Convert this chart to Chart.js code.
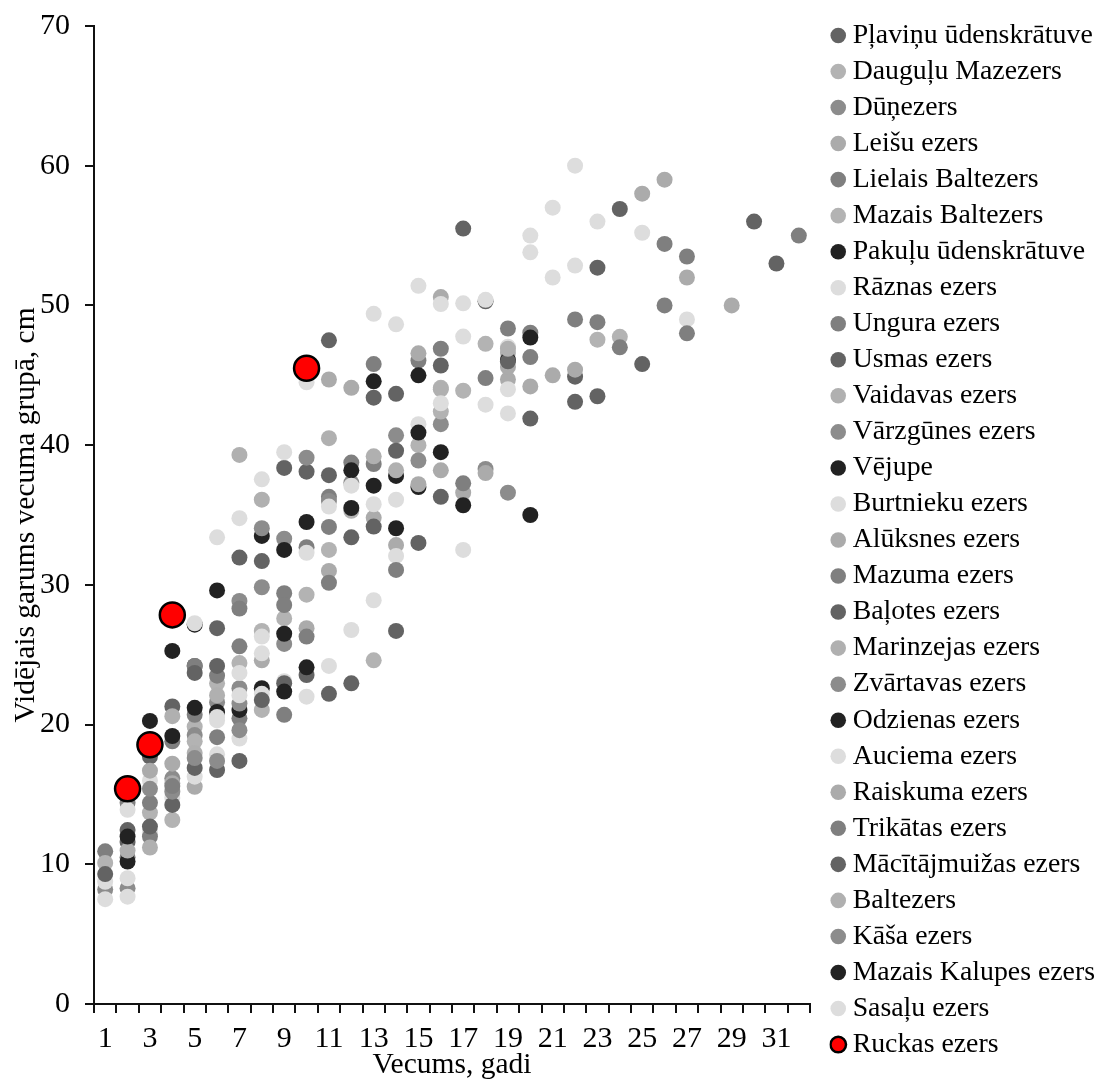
<!DOCTYPE html>
<html><head><meta charset="utf-8">
<style>html,body{margin:0;padding:0;background:#fff}canvas{display:block}</style>
<script src="https://cdn.jsdelivr.net/npm/chart.js@4"></script>
</head><body><div style="width:1099px;height:1080px"><canvas id="c"></canvas></div>
<script>
const categories=[1,2,3,4,5,6,7,8,9,10,11,12,13,14,15,16,17,18,19,20,21,22,23,24,25,26,27,28,29,30,31,32];
const yTicks=[0,10,20,30,40,50,60,70];
const D1='#636363',D2='#222222',L1='#dddddd',G1='#7f7f7f',G2='#8c8c8c',A1='#b3b3b3',A2='#ababab',A3='#b0b0b0';
const plavinu=[[2,12.45],[3,17.7],[4,21.3],[5,24.2],[6,26.9],[7,31.95],[8,31.7],[9,38.37],[10,38.1],[13,43.4],[14,43.67],[16,45.7],[17,55.5],[22,44.9],[24,56.9],[30,56],[31,53]];
const daugulu=[[3,13.7],[5,19.85],[6,22.95],[7,24.4],[8,26.7],[9,27.6],[10,29.3],[11,32.5],[12,35.3],[15,40],[16,44.1],[17,43.9],[18,47.25],[19,46.6],[23,47.55],[24,47.75]];
const dunezers=[[1,8.2],[2,8.28],[4,16.15],[5,19.25],[6,21.6],[7,28.85],[8,29.83],[9,33.3],[10,39.1],[12,37.3],[14,40.7],[15,38.9],[16,41.5],[18,38.3],[19,36.6]];
const leisu=[[4,17.2],[5,15.55],[8,24.6],[10,26.9],[11,31],[13,34.8],[14,32.85],[16,38.2],[17,36.6],[18,38],[19,44.7],[20,44.2],[21,45],[22,45.4]];
const lielais=[[1,10.93],[2,10.5],[3,14.4],[5,24.2],[6,23.5],[7,25.6],[9,29.4],[10,32.7],[11,36.3],[12,38.75],[13,45.8],[15,46.05],[16,46.9],[18,44.8],[19,48.35],[20,48.05],[22,49],[23,48.8],[24,47],[26,54.4],[27,53.5],[32,55]];
const mazaisBaltezers=[[1,10.1],[4,13.17],[5,18.8],[8,21.05],[13,24.6],[16,42.4]];
const pakulu=[[3,20.26],[4,25.27],[5,27.15],[6,29.6],[8,22.6],[9,32.5],[10,34.5],[12,38.2],[13,44.57],[15,37],[20,47.7]];
const raznas=[[1,7.5],[2,9],[3,12.3],[4,14.75],[5,16.27],[6,17.87],[7,19],[8,22.2],[9,23.1],[10,22],[11,24.2],[12,26.77],[13,28.9],[14,32.07],[15,41.5],[17,32.5],[19,42.27],[21,52],[22,52.85],[25,55.2],[27,49]];
const ungura=[[2,14.4],[3,11.98],[4,18.8],[5,20.7],[6,19.1],[7,28.3],[9,28.56],[10,26.3],[11,30.15],[14,31.07]];
const usmas=[[2,11.6],[3,12.7],[4,14.25],[5,16.9],[6,16.75],[7,17.4],[8,21.75],[9,22.96],[10,23.55],[11,22.2],[12,22.95],[14,26.7]];
const vaidavas=[[5,17.96],[7,39.3],[8,36.1],[11,40.5]];
const varzgunes=[[4,15.2],[5,17.6],[6,17.4],[7,22.6],[9,25.77],[11,36]];
const vejupe=[[2,10.2],[4,19.18],[5,21.2],[6,20.9],[8,33.5],[9,26.5],[10,24.1],[12,35.5],[13,37.1],[14,37.8],[15,40.9],[16,39.5],[17,35.7],[19,46.1]];
const burtnieku=[[1,8.75],[3,16],[5,27.25],[6,33.4],[7,34.77],[8,37.55],[9,39.5],[10,44.5],[13,49.4],[14,48.65],[15,51.4],[17,50.15],[20,55],[21,57],[22,60],[23,56]];
const aluksnes=[[11,44.7],[12,44.1],[15,46.57],[16,50.6],[19,45.6],[25,58],[26,59],[27,52],[29,50]];
const mazuma=[[7,20.45],[9,20.7],[11,34.15],[13,38.65],[17,37.27],[20,46.3],[26,50],[27,48]];
const balotes=[[6,24.2],[11,37.85],[12,33.4],[13,34.17],[14,39.6],[15,33],[16,36.3],[20,41.9],[22,43.1],[23,43.5],[25,45.8]];
const marinzejas=[[3,11.2],[16,44]];
const zvartavas=[[3,15.4],[7,19.6]];
const odzienas=[[7,21.05],[9,22.36],[14,34.05],[20,35]];
const auciema=[[2,13.9],[6,20.55],[7,23.7],[8,26.3],[10,32.3],[11,35.6],[12,37.1],[13,35.77],[14,36.1],[16,50.1],[17,47.77],[18,42.9],[19,47.05],[20,53.8]];
const raiskuma=[[3,16.7],[4,15.8],[15,37.2]];
const trikatas=[[4,15.6]];
const macitajmuizas=[[1,9.3],[5,23.7],[11,47.5],[18,50.3],[19,46],[23,52.7]];
const baltezers=[[2,10.98],[4,20.6],[6,22.1],[13,39.2],[14,38.2],[19,46.9]];
const kasa=[[7,21.5],[8,34.05]];
const mazaisKalupes=[[2,11.98],[15,45]];
const sasalu=[[2,7.68],[6,20.3],[7,22.1],[8,25.1],[16,43],[18,50.4],[19,44]];
const ruckas=[[2,15.4],[3,18.56],[4,27.85],[10,45.5]];
const seriesNames=['Pļaviņu ūdenskrātuve','Dauguļu Mazezers','Dūņezers','Leišu ezers','Lielais Baltezers','Mazais Baltezers','Pakuļu ūdenskrātuve','Rāznas ezers','Ungura ezers','Usmas ezers','Vaidavas ezers','Vārzgūnes ezers','Vējupe','Burtnieku ezers','Alūksnes ezers','Mazuma ezers','Baļotes ezers','Marinzejas ezers','Zvārtavas ezers','Odzienas ezers','Auciema ezers','Raiskuma ezers','Trikātas ezers','Mācītājmuižas ezers','Baltezers','Kāša ezers','Mazais Kalupes ezers','Sasaļu ezers','Ruckas ezers'];
const seriesValues=[plavinu,daugulu,dunezers,leisu,lielais,mazaisBaltezers,pakulu,raznas,ungura,usmas,vaidavas,varzgunes,vejupe,burtnieku,aluksnes,mazuma,balotes,marinzejas,zvartavas,odzienas,auciema,raiskuma,trikatas,macitajmuizas,baltezers,kasa,mazaisKalupes,sasalu,ruckas];
const seriesColors=[D1,A1,G2,A2,G1,A1,D2,L1,G1,D1,A3,G2,D2,L1,A2,G1,D1,A3,G2,D2,L1,A2,G1,D1,A3,G2,D2,L1,'#ff0000'];
const FONT='"Liberation Serif"';
const datasets=seriesNames.map((n,i)=>{
  const red=i===seriesNames.length-1;
  return {label:n,order:seriesNames.length-i,data:seriesValues[i].map(p=>({x:p[0],y:p[1]})),showLine:false,
    backgroundColor:seriesColors[i],borderColor:red?'#000':seriesColors[i],borderWidth:red?2:0,
    pointBackgroundColor:seriesColors[i],pointBorderColor:red?'#000':seriesColors[i],
    pointBorderWidth:red?2.5:0,pointRadius:red?12.5:8,pointHoverRadius:red?12.5:8,clip:false};
});
const legendShift={id:'legendShift',afterLayout(chart){const l=chart.legend;const d=829.5-l.left;l.left+=d;l.right+=d;}};
new Chart(document.getElementById('c'),{type:'line',
 data:{labels:categories,datasets},plugins:[legendShift],
 options:{responsive:true,maintainAspectRatio:false,animation:false,
  layout:{padding:{top:0,right:19,bottom:0,left:0}},
  plugins:{tooltip:{enabled:false},
   legend:{position:'right',align:'center',labels:{usePointStyle:true,pointStyle:'circle',boxWidth:1,boxHeight:11,padding:8.24,color:'#000',font:{family:FONT,size:27.8},sort:(a,b)=>a.datasetIndex-b.datasetIndex}}},
  scales:{
   x:{type:'category',offset:true,grid:{offset:true,drawOnChartArea:false,color:'#111',lineWidth:2,tickLength:9,tickWidth:2},border:{color:'#111',width:2},
    ticks:{autoSkip:false,maxRotation:0,minRotation:0,padding:8,color:'#000',font:{family:FONT,size:30},
      callback(v,i){return categories[i]%2?String(categories[i]):'';}},
    title:{display:true,text:'Vecums, gadi',color:'#000',font:{family:FONT,size:29.5},padding:{top:-3,bottom:-3}},
    afterFit(s){s.height=76;}},
   y:{min:0,max:70,afterBuildTicks(s){s.ticks=yTicks.map(v=>({value:v}));},
    grid:{drawOnChartArea:false,color:'#111',lineWidth:2,tickLength:9,tickWidth:2},border:{color:'#111',width:2},
    ticks:{padding:15,color:'#000',font:{family:FONT,size:30}},
    title:{display:true,text:'Vidējais garums vecuma grupā, cm',color:'#000',font:{family:FONT,size:29.5},padding:{top:9,bottom:9}},
    afterFit(s){s.width=94;s.paddingTop=26;}}
  }}});
</script></body></html>
